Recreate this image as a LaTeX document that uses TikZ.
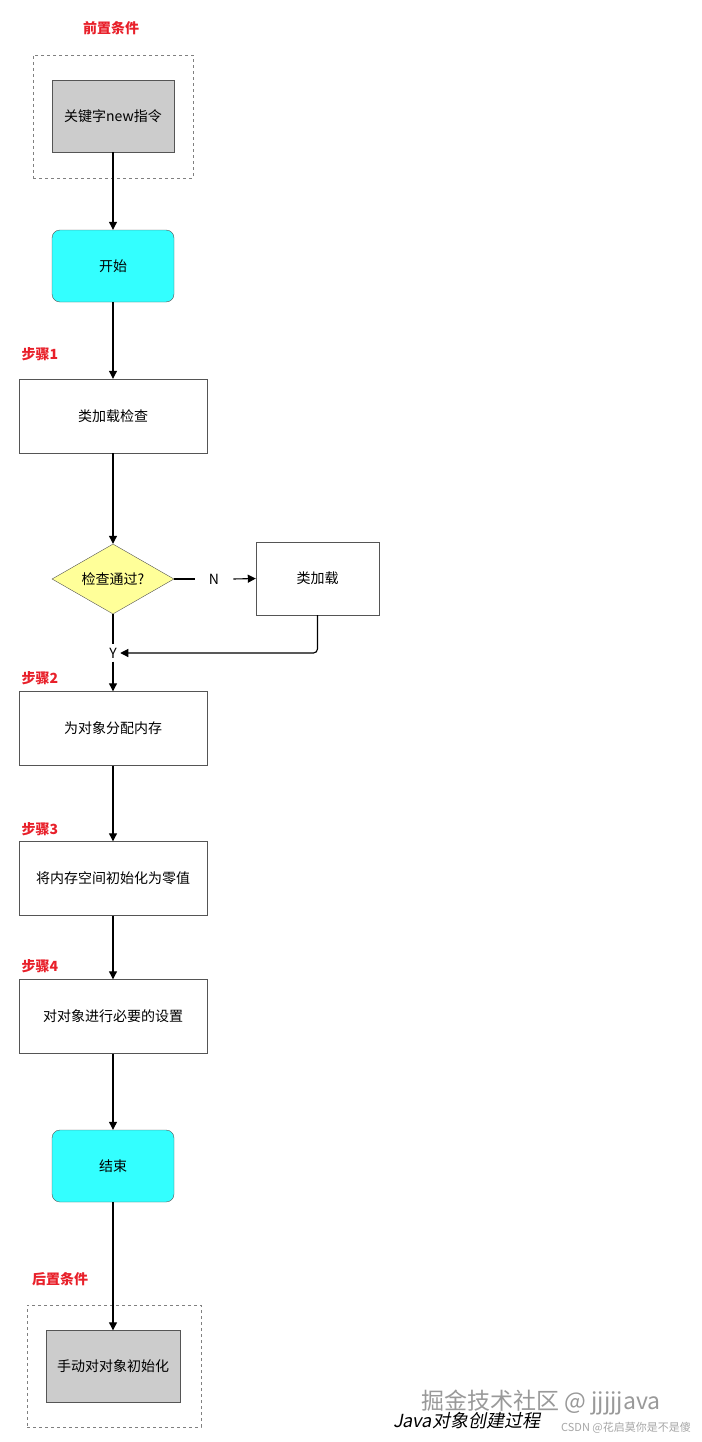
\documentclass[tikz,border=0pt]{standalone}
\usepackage{fontspec}
\setmainfont{Noto Sans CJK SC}
\usetikzlibrary{shapes.geometric,arrows.meta}
\definecolor{cy}{HTML}{33FFFF}
\definecolor{gy}{HTML}{CCCCCC}
\definecolor{yl}{HTML}{FFFF99}
\definecolor{rd}{HTML}{E8202A}
\definecolor{bd}{HTML}{555555}
\tikzset{
 x=1pt,y=-1pt,
 every node/.style={font=\fontsize{14}{16}\selectfont},
 proc/.style={draw=bd,fill=white,minimum width=188pt,minimum height=74pt,inner sep=0},
 term/.style={draw=bd,fill=cy,rounded corners=8pt,minimum width=122pt,minimum height=72pt,inner sep=0},
 gbox/.style={draw=bd,fill=gy,minimum height=72pt,inner sep=0},
 frame/.style={draw=gray,dashed,inner sep=0},
 lab/.style={text=rd,font=\bfseries\fontsize{14}{16}\selectfont},
 arr/.style={-{Triangle[length=8pt,width=8pt]},line width=1.1pt},
 ln/.style={line width=1.1pt}
}
\begin{document}
\begin{tikzpicture}
\useasboundingbox (0,0) rectangle (701,1442);
\node[lab] at (111,28) {前置条件};
\node[frame,minimum width=160pt,minimum height=123pt] (f1) at (113,116.5) {};
\node[gbox,minimum width=122pt] (kw) at (113,116) {关键字new指令};
\node[term] (st) at (113,266) {开始};
\node[lab] at (40,354) {步骤1};
\node[proc] (c1) at (113,416) {类加载检查};
\node[diamond,draw=bd,fill=yl,minimum width=122pt,minimum height=70pt,inner sep=0,aspect=1.75] (d) at (113,579) {检查通过?};
\node[proc,minimum width=123pt,minimum height=73pt] (cl) at (317.5,578.5) {类加载};
\node[inner xsep=14pt] (N) at (214,579) {N};
\node (Y) at (113,653) {Y};
\draw[ln] (d.east) -- (N.west);
\draw[arr] (N.east) -- (cl.west);
\draw[arr,rounded corners=4pt] (cl.south) |- (Y.east);
\draw[ln] (d.south) -- (Y.north);
\node[lab] at (40,678) {步骤2};
\node[proc] (s2) at (113,728.5) {为对象分配内存};
\node[lab] at (40,829) {步骤3};
\node[proc] (s3) at (113,878.5) {将内存空间初始化为零值};
\node[lab] at (40,966) {步骤4};
\node[proc] (s4) at (113,1016.5) {对对象进行必要的设置};
\node[term] (en) at (113,1166) {结束};
\node[lab] at (60,1279) {后置条件};
\node[frame,minimum width=174pt,minimum height=122pt] (f2) at (114,1366) {};
\node[gbox,minimum width=134pt] (mi) at (113,1366.5) {手动对对象初始化};
\draw[arr] (kw) -- (st);
\draw[arr] (st) -- (c1);
\draw[arr] (c1) -- (d);
\draw[arr] (Y) -- (s2);
\draw[arr] (s2) -- (s3);
\draw[arr] (s3) -- (s4);
\draw[arr] (s4) -- (en);
\draw[arr] (en) -- (mi);
\node[text=gray!80,font=\fontsize{23}{26}\selectfont] (wm) at (541,1403) {掘金技术社区 @ jjjjjava};
\node[font=\itshape\fontsize{18}{20}\selectfont,xslant=0.2] (ti) at (468,1421) {Java对象创建过程};
\node[text=gray!70,font=\fontsize{11}{12}\selectfont] (cs) at (626,1428) {CSDN @花启莫你是不是傻};
\end{tikzpicture}
\end{document}
